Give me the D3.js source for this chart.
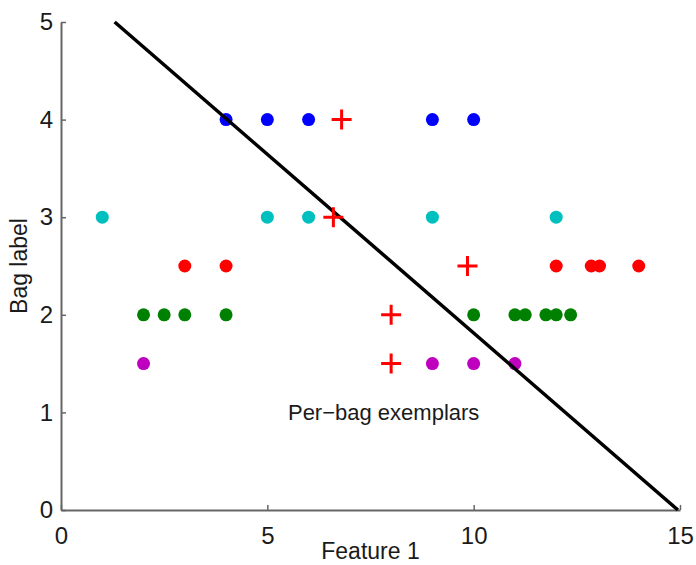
<!DOCTYPE html>
<html>
<head>
<meta charset="utf-8">
<script src="https://cdn.jsdelivr.net/npm/d3@7"></script>
<style>
  body { margin: 0; background: #fff; }
  text { font-family: "Liberation Sans", Arial, sans-serif; fill: #1a1a1a; }
</style>
</head>
<body>
<script>
// bags: x values per bag, y is the bag label
var blueX = [4, 5, 6, 9, 10];
var cyanX = [1, 5, 6, 9, 12];
var redX = [3, 4, 12, 12.85, 13.05, 14];
var greenX = [2, 2.5, 3, 4, 10, 11, 11.25, 11.75, 12, 12.35];
var magentaX = [2, 9, 10, 11];
var bagY = [4, 3, 2.5, 2, 1.5];
var bagColors = ["#0000ff", "#00bfbf", "#ff0000", "#008000", "#bf00bf"];

// per-bag exemplars (red crosses)
var exemplarX = [6.8, 6.6, 9.85, 8, 8];
var exemplarY = [4, 3, 2.5, 2, 1.5];

// decision line
var lineX = [1.3, 14.95];
var lineY = [5, 0];

var xTicks = [0, 5, 10, 15];
var yTicks = [0, 1, 2, 3, 4, 5];

var width = 696, height = 565;
var margin = {top: 22, right: 16, bottom: 55, left: 61};

var svg = d3.select("body").append("svg")
	.attr("width", width)
	.attr("height", height)
;

var x = d3.scaleLinear().domain([0, 15]).range([margin.left, width - margin.right]);
var y = d3.scaleLinear().domain([0, 5]).range([height - margin.bottom, margin.top]);

// axes (matlab style, ticks pointing inward)
var xAxis = svg.append("g")
	.attr("transform", "translate(0," + y(0) + ")")
	.call(d3.axisBottom(x).tickValues(xTicks).tickFormat(d3.format("d"))
		.tickSizeInner(-5).tickSizeOuter(0).tickPadding(12))
;
var yAxis = svg.append("g")
	.attr("transform", "translate(" + x(0) + ",0)")
	.call(d3.axisLeft(y).tickValues(yTicks).tickFormat(d3.format("d"))
		.tickSizeInner(-5).tickSizeOuter(0).tickPadding(8))
;
[xAxis, yAxis].forEach(function(a) {
	a.select(".domain").attr("stroke", "#666").attr("stroke-width", 2);
	a.selectAll(".tick line").attr("stroke", "#666").attr("stroke-width", 1.5);
	a.selectAll(".tick text")
		.style("font-family", "'Liberation Sans', Arial, sans-serif")
		.attr("font-size", 24)
		.attr("fill", "#1a1a1a");
});
xAxis.selectAll(".tick text").attr("dy", "0.9em");

svg.append("text")
	.attr("x", x(7.5))
	.attr("y", 559)
	.attr("text-anchor", "middle")
	.attr("font-size", 23)
	.text("Feature 1")
;
svg.append("text")
	.attr("transform", "translate(27," + y(2.5) + ")rotate(-90)")
	.attr("text-anchor", "middle")
	.attr("font-size", 23)
	.text("Bag label")
;

// bag points
var bags = [blueX, cyanX, redX, greenX, magentaX];
bags.forEach(function(xs, i) {
	svg.append("g").selectAll("circle")
		.data(xs)
		.enter().append("circle")
			.attr("cx", function(d) { return x(d); })
			.attr("cy", y(bagY[i]))
			.attr("r", 6.5)
			.style("fill", bagColors[i])
	;
});

// line
svg.append("line")
	.attr("x1", x(lineX[0]))
	.attr("y1", y(lineY[0]))
	.attr("x2", x(lineX[1]))
	.attr("y2", y(lineY[1]))
	.style("stroke", "#000")
	.style("stroke-width", 3.5)
;

// exemplar crosses
var cross = 10;
svg.append("g").selectAll("path")
	.data(exemplarX)
	.enter().append("path")
		.attr("d", function(d, i) {
			var cx = x(d), cy = y(exemplarY[i]);
			return "M" + (cx - cross) + "," + cy + "H" + (cx + cross) +
				"M" + cx + "," + (cy - cross) + "V" + (cy + cross);
		})
		.style("stroke", "#ff0000")
		.style("stroke-width", 3)
		.style("fill", "none")
;

svg.append("text")
	.attr("x", x(5.5))
	.attr("y", y(1))
	.attr("dy", "0.35em")
	.attr("font-size", 22)
	.text("Per\u2212bag exemplars")
;
</script>
</body>
</html>
